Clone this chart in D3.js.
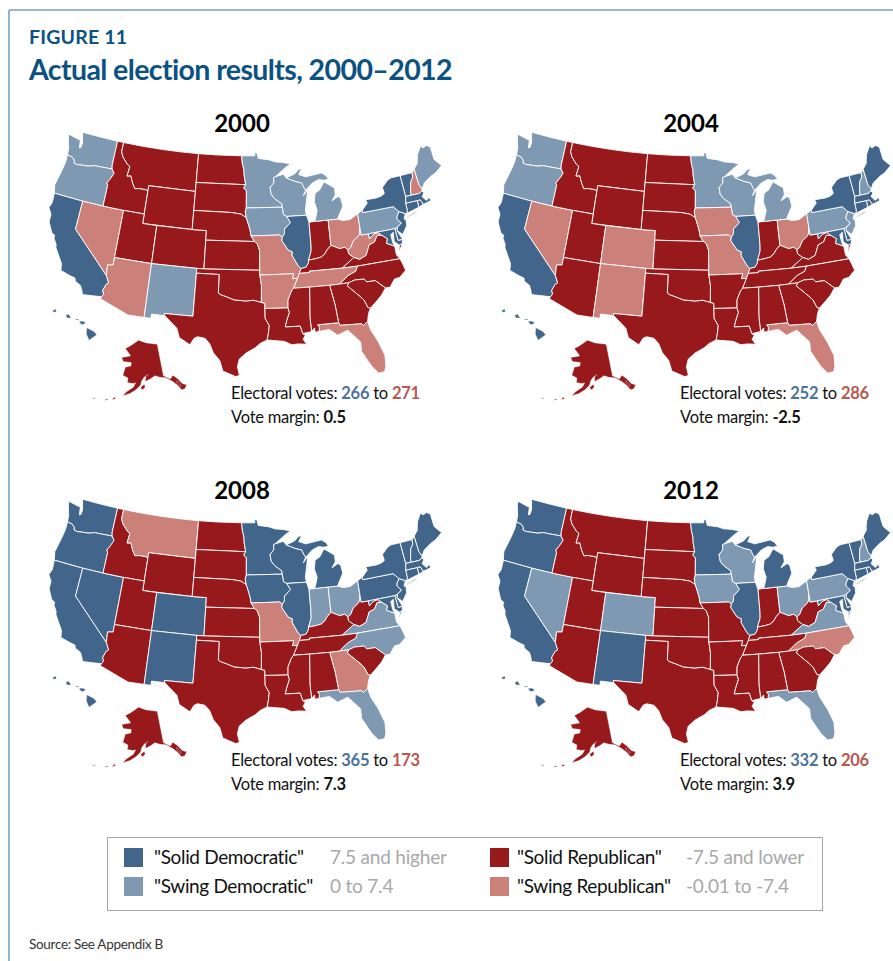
<!doctype html>
<html>
<head>
<title>Actual election results, 2000-2012</title>
<meta charset="utf-8"/>
<script src="https://cdnjs.cloudflare.com/ajax/libs/d3/7.8.5/d3.min.js"></script>
<style>
  body { margin: 0; background: #fff; }
  text { font-family: Lato, sans-serif; }
  .state { stroke: #fff; stroke-width: 0.9px; stroke-linejoin: round; }
  .inset { stroke-width: 0.3px; }
</style>
</head>
<body>
<svg width="893" height="961"></svg>
<script>
// yearly results, by rating
const years = ["2000", "2004", "2008", "2012"];
const demVotes = [266, 252, 365, 332];
const repVotes = [271, 286, 173, 206];
const margins = ["0.5", "-2.5", "7.3", "3.9"];

const solidDem = [
  ["CA","IL","NY","VT","MA","RI","CT","NJ","DE","MD","HI"],
  ["CA","IL","NY","VT","MA","RI","CT","DE","MD","ME","HI"],
  ["WA","OR","CA","NV","CO","NM","MN","WI","IA","IL","MI","PA","NY","VT","NH","ME","MA","RI","CT","NJ","DE","MD","HI"],
  ["WA","OR","CA","NM","MN","MI","IL","NY","VT","ME","MA","RI","CT","NJ","DE","MD","HI"]
];
const swingDem = [
  ["WA","OR","MN","WI","IA","MI","PA","NM","ME"],
  ["WA","OR","MN","WI","MI","PA","NH","NJ"],
  ["IN","OH","VA","NC","FL"],
  ["NV","CO","WI","IA","OH","PA","VA","FL","NH"]
];
const swingRep = [
  ["NV","AZ","MO","AR","TN","OH","WV","FL","NH"],
  ["NV","CO","NM","IA","MO","OH","FL"],
  ["MT","MO","GA"],
  ["NC"]
];

const legendLabels = ['"Solid Democratic"', '"Swing Democratic"', '"Solid Republican"', '"Swing Republican"'];
const legendRanges = ["7.5 and higher", "0 to 7.4", "-7.5 and lower", "-0.01 to -7.4"];
const colors = ["#41658b", "#7f99b3", "#97191c", "#cb8079"];

// state outlines, lon/lat
const columbia = [[-124.0,46.25],[-123.2,46.15],[-122.8,45.9],[-122.7,45.62],[-122.2,45.55],[-121.2,45.65],[-120.5,45.7],[-119.6,45.92],[-119.0,45.93],[-116.92,46.0]];
const snake = [[-116.92,46.0],[-116.48,45.6],[-116.85,44.95],[-117.22,44.45],[-117.03,44.2],[-117.03,42.0]];
const bitterroot = [[-116.05,48.0],[-115.7,47.5],[-114.75,46.8],[-114.35,46.65],[-114.5,45.6],[-113.95,45.7],[-113.45,44.95],[-113.0,44.45],[-112.3,44.55],[-111.5,44.55],[-111.05,44.47]];
const coloradoRiver = [[-114.04,36.2],[-114.75,36.1],[-114.63,35.0],[-114.15,34.27],[-114.43,34.1],[-114.72,33.4],[-114.52,33.03],[-114.72,32.72]];
const redRiver = [[-94.48,33.64],[-95.5,33.88],[-96.5,33.78],[-97.2,33.85],[-97.9,33.88],[-98.95,34.2],[-99.7,34.4],[-100.0,34.56]];
const back = a => a.slice().reverse();

const WA = [[[-124.73,48.38],[-123.1,48.15],[-122.75,48.15],[-122.55,47.3],[-122.35,47.4],[-122.3,47.9],[-122.5,48.4],[-122.75,49],[-120,49],[-117.03,49],[-117.03,46.4],...back(columbia),[-124.1,46.9],[-124.6,47.9]]];
const OR = [[[-123.95,45.5],[-124.1,44.6],[-124.5,42.85],[-124.2,42],[-120,42],[-117.03,42],...back(snake),...back(columbia)]];
const CA = [[[-124.2,42],[-120,42],[-120,39],...coloradoRiver.slice(2),[-117.12,32.53],[-117.25,32.85],[-117.6,33.4],[-118.4,33.75],[-118.5,34.03],[-119.2,34.15],[-120.5,34.45],[-120.65,35.15],[-121.9,36.6],[-122,36.95],[-122.5,37.5],[-122.5,37.8],[-123,38],[-123.75,39],[-123.8,39.8],[-124.35,40.4],[-124.1,41]]];
const NV = [[[-120,42],[-117.03,42],[-114.04,42],[-114.04,37],[-114.04,36.2],[-114.75,36.1],[-114.63,35],[-120,39]]];
const ID = [[[-117.03,49],[-116.05,49],...bitterroot,[-111.05,42],[-114.04,42],[-117.03,42],...back(snake),[-117.03,46.4]]];
const MT = [[[-116.05,49],[-113,49],[-110,49],[-107,49],[-104.05,49],[-104.05,45.94],[-104.05,45],[-111.05,45],...back(bitterroot)]];
const WY = [[[-111.05,45],[-104.05,45],[-104.05,43],[-104.05,41],[-111.05,41],[-111.05,42],[-111.05,44.47]]];
const UT = [[[-114.04,42],[-111.05,42],[-111.05,41],[-109.05,41],[-109.05,37],[-114.04,37]]];
const AZ = [[[-114.04,37],[-109.05,37],[-109.05,31.33],[-111.07,31.33],[-114.81,32.5],...back(coloradoRiver)]];
const CO = [[[-109.05,41],[-104.05,41],[-102.05,41],[-102.05,40],[-102.05,37],[-103,37],[-109.05,37]]];
const NM = [[[-109.05,37],[-103,37],[-103.04,32],[-106.62,32],[-106.53,31.78],[-108.2,31.78],[-108.2,31.33],[-109.05,31.33]]];
const ND = [[[-104.05,49],[-101,49],[-97.23,49],[-97.1,48.2],[-96.85,47.5],[-96.8,46.9],[-96.56,45.94],[-104.05,45.94]]];
const SD = [[[-104.05,45.94],[-96.56,45.94],[-96.85,45.6],[-96.45,45.3],[-96.45,43.5],[-96.6,43.1],[-96.45,42.49],[-97.2,42.85],[-98.5,43],[-104.05,43],[-104.05,45]]];
const NE = [[[-104.05,43],[-98.5,43],[-97.2,42.85],[-96.45,42.49],[-96.1,41.7],[-95.9,41.2],[-95.77,40.58],[-95.31,40],[-102.05,40],[-102.05,41],[-104.05,41]]];
const KS = [[[-102.05,40],[-95.31,40],[-94.9,39.75],[-94.61,39.1],[-94.62,37],[-102.05,37]]];
const OK = [[[-103,37],[-102.05,37],[-94.62,37],[-94.62,36.5],[-94.43,35.4],...redRiver,[-100,36.5],[-103,36.5]]];
const TX = [[[-103,36.5],[-100,36.5],...back(redRiver),[-94.04,33.55],[-94.04,33.02],[-94.04,31.99],[-93.55,31.2],[-93.7,30.3],[-93.85,29.7],[-94.7,29.35],[-95.3,28.9],[-96.4,28.35],[-97.2,27.7],[-97.4,26.9],[-97.15,25.96],[-97.6,25.85],[-99.1,26.4],[-99.5,27.5],[-100.3,28.3],[-100.8,29.25],[-101.4,29.77],[-102.3,29.88],[-102.7,29.7],[-103.15,28.98],[-104.5,29.65],[-104.9,30.6],[-106.53,31.78],[-106.62,32],[-103.04,32]]];
const MN = [[[-97.23,49],[-95.15,49],[-95.15,49.38],[-94.8,49.3],[-94.6,48.72],[-93,48.55],[-92,48.3],[-90.8,48.2],[-89.6,48],[-90.5,47.6],[-92.05,46.72],[-92.3,46.65],[-92.3,46.1],[-92.9,45.6],[-92.75,44.9],[-92.3,44.45],[-91.25,43.85],[-91.22,43.5],[-96.45,43.5],[-96.45,45.3],[-96.85,45.6],[-96.56,45.94],[-96.8,46.9],[-96.85,47.5],[-97.1,48.2]]];
const WI = [[[-92.05,46.72],[-90.8,46.95],[-90.4,46.55],[-89.1,46.13],[-88.1,45.9],[-87.8,45.35],[-87.6,45.1],[-88,44.55],[-87.3,45.2],[-87.5,44.4],[-87.9,43],[-87.8,42.49],[-90.64,42.51],[-91.1,42.7],[-91.22,43.5],[-91.25,43.85],[-92.3,44.45],[-92.75,44.9],[-92.9,45.6],[-92.3,46.1],[-92.3,46.65]]];
const IA = [[[-96.45,43.5],[-91.22,43.5],[-91.1,42.7],[-90.64,42.51],[-90.15,41.85],[-91.05,41.2],[-91.1,40.7],[-91.42,40.38],[-91.75,40.61],[-95.77,40.58],[-95.9,41.2],[-96.1,41.7],[-96.45,42.49],[-96.6,43.1]]];
const MO = [[[-95.77,40.58],[-91.75,40.61],[-91.42,40.38],[-91.5,40],[-90.7,39],[-90.15,38.8],[-90.2,38.4],[-89.5,37.3],[-89.15,37],[-89.4,36.5],[-89.7,36],[-90.37,36],[-90.15,36.5],[-94.62,36.5],[-94.62,37],[-94.61,39.1],[-94.9,39.75],[-95.31,40]]];
const IL = [[[-90.64,42.51],[-87.8,42.49],[-87.53,41.7],[-87.53,39.35],[-87.6,38.7],[-88.05,37.8],[-88.1,37.5],[-88.45,37.1],[-89.15,37],[-89.5,37.3],[-90.2,38.4],[-90.15,38.8],[-90.7,39],[-91.5,40],[-91.42,40.38],[-91.1,40.7],[-91.05,41.2],[-90.15,41.85]]];
const IN = [[[-87.53,41.7],[-87.2,41.75],[-86.8,41.76],[-84.8,41.76],[-84.82,39.1],[-85.4,38.7],[-85.8,38.28],[-86.3,38],[-87,37.9],[-88.05,37.8],[-87.6,38.7],[-87.53,39.35]]];
const OH = [[[-84.8,41.76],[-83.45,41.73],[-82.7,41.5],[-81.7,41.5],[-80.52,41.98],[-80.52,40.64],[-80.65,40],[-80.85,39.7],[-81.7,39.25],[-82.2,38.6],[-82.6,38.42],[-83,38.72],[-83.7,38.65],[-84.3,38.9],[-84.82,39.1]]];
const KY = [[[-89.15,37],[-88.45,37.1],[-88.1,37.5],[-88.05,37.8],[-87,37.9],[-86.3,38],[-85.8,38.28],[-85.4,38.7],[-84.82,39.1],[-84.3,38.9],[-83.7,38.65],[-83,38.72],[-82.6,38.42],[-82.6,38],[-81.97,37.54],[-83.68,36.6],[-88.07,36.65],[-88.07,36.5],[-89.4,36.5]]];
const WV = [[[-80.52,40.64],[-80.52,39.72],[-79.48,39.72],[-79.48,39.2],[-78.8,39.6],[-78.2,39.68],[-77.72,39.32],[-78.35,39.4],[-78.87,38.77],[-79.65,38.58],[-80.3,37.55],[-81.25,37.25],[-81.97,37.54],[-82.6,38],[-82.6,38.42],[-82.2,38.6],[-81.7,39.25],[-80.85,39.7],[-80.65,40]]];
const VA = [[[-83.68,36.6],[-81.97,37.54],[-81.25,37.25],[-80.3,37.55],[-79.65,38.58],[-78.87,38.77],[-78.35,39.4],[-77.72,39.32],[-77.05,38.85],[-77.3,38.4],[-76.3,37.95],[-76.3,37],[-75.95,36.55],[-81.68,36.59]],
  [[-75.95,37.15],[-75.25,38.03],[-75.65,37.95]]];
const NC = [[[-75.95,36.55],[-81.68,36.59],[-82,36.1],[-83.1,35.75],[-84.32,34.99],[-83.11,35],[-82.3,35.2],[-81.05,35.15],[-80.8,34.82],[-79.67,34.8],[-78.55,33.86],[-77.95,33.85],[-77.2,34.6],[-76.5,34.65],[-75.55,35.25],[-75.75,35.95]]];
const TN = [[[-88.07,36.5],[-88.07,36.65],[-83.68,36.6],[-81.68,36.59],[-82,36.1],[-83.1,35.75],[-84.32,34.99],[-85.6,34.98],[-88.2,35],[-90.3,35],[-89.7,36],[-89.4,36.5]]];
const SC = [[[-83.11,35],[-82.3,35.2],[-81.05,35.15],[-80.8,34.82],[-79.67,34.8],[-78.55,33.86],[-79.2,33.2],[-79.9,32.7],[-80.85,32.05],[-81.15,32.15],[-81.5,33],[-82,33.5],[-83.35,34.7]]];
const GA = [[[-85.6,34.98],[-84.32,34.99],[-83.11,35],[-83.35,34.7],[-82,33.5],[-81.5,33],[-81.15,32.15],[-80.85,32.05],[-81.2,31.5],[-81.45,30.72],[-82.05,30.36],[-82.2,30.57],[-84.86,30.7],[-85,31],[-85.1,32],[-85.18,32.87]]];
const FL = [[[-87.6,31],[-85,31],[-84.86,30.7],[-82.2,30.57],[-82.05,30.36],[-81.45,30.72],[-81.25,29.8],[-80.55,28.4],[-80.05,26.9],[-80.15,25.75],[-80.4,25.2],[-81.1,25.15],[-81.75,25.95],[-82.1,26.6],[-82.7,27.7],[-82.65,28.7],[-83.4,29.5],[-84,30.1],[-85.3,29.7],[-86.2,30.4],[-87.5,30.3],[-87.4,30.7]]];
const AL = [[[-88.2,35],[-85.6,34.98],[-85.18,32.87],[-85.1,32],[-85,31],[-87.6,31],[-87.4,30.7],[-87.5,30.3],[-88,30.25],[-88,30.7],[-88.4,30.35],[-88.47,31.9]]];
const MS = [[[-90.3,35],[-88.2,35],[-88.47,31.9],[-88.4,30.35],[-89.5,30.2],[-89.75,31],[-91.6,31],[-91.4,31.6],[-91,32.5],[-91.15,33],[-91.1,33.8],[-90.6,34.7]]];
const LA = [[[-94.04,33.02],[-91.15,33],[-91,32.5],[-91.4,31.6],[-91.6,31],[-89.75,31],[-89.5,30.2],[-89.2,30],[-89.5,29.6],[-89.1,29.05],[-90.1,29.15],[-90.9,29.1],[-91.8,29.5],[-92.3,29.55],[-93.85,29.7],[-93.7,30.3],[-93.55,31.2],[-94.04,31.99]]];
const AR = [[[-94.62,36.5],[-90.15,36.5],[-90.37,36],[-89.7,36],[-90.3,35],[-90.6,34.7],[-91.1,33.8],[-91.15,33],[-94.04,33.02],[-94.04,33.55],[-94.48,33.64],[-94.43,35.4]]];
const MI = [[[-86.8,41.76],[-84.8,41.76],[-83.45,41.73],[-83.1,42.2],[-82.45,43],[-82.6,43.85],[-82.95,44.07],[-83.9,43.7],[-83.3,44.3],[-83.3,45],[-84.75,45.78],[-85.5,45],[-86.25,44.7],[-86.5,43.8],[-86.2,42.9],[-86.6,41.95]],
  [[-90.4,46.55],[-89.1,46.9],[-88.4,47.35],[-87.9,47.45],[-88.45,46.8],[-87.4,46.5],[-86,46.65],[-85,46.75],[-84.4,46.45],[-84,46],[-84.75,45.95],[-85.5,46.08],[-86.5,45.8],[-87.6,45.1],[-87.8,45.35],[-88.1,45.9],[-89.1,46.13]]];
const PA = [[[-80.52,41.98],[-79.76,42.27],[-79.76,42],[-75.35,42],[-74.7,41.36],[-75.1,40.95],[-75.2,40.65],[-74.72,40.15],[-75.4,39.8],[-75.79,39.72],[-79.48,39.72],[-80.52,39.72],[-80.52,40.64]]];
const NY = [[[-79.76,42.27],[-79.76,42],[-75.35,42],[-74.7,41.36],[-73.9,41],[-73.65,41],[-73.5,41.3],[-73.5,42.05],[-73.27,42.75],[-73.35,45],[-74.7,45],[-75.3,44.85],[-76.3,44.2],[-76.2,43.55],[-76.7,43.35],[-77.5,43.25],[-79.05,43.27],[-78.9,42.9]],
  [[-74,40.6],[-72,41.05],[-72.6,40.8],[-73.7,40.58]]];
const VT = [[[-73.35,45],[-71.5,45],[-71.6,44.5],[-72.05,44.1],[-72.45,43],[-72.46,42.73],[-73.27,42.75]]];
const NH = [[[-71.5,45],[-71.08,45.3],[-71,43.6],[-70.7,43.07],[-70.82,42.87],[-71.3,42.7],[-72.46,42.73],[-72.45,43],[-72.05,44.1],[-71.6,44.5]]];
const ME = [[[-71.08,45.3],[-70.4,45.8],[-70.25,46.2],[-70,46.7],[-69.23,47.46],[-68.9,47.2],[-68.3,47.35],[-67.8,47.07],[-67.8,45.7],[-67.45,45.3],[-67,44.85],[-68.2,44.3],[-69,44.1],[-70.2,43.6],[-70.7,43.07],[-71,43.6]]];
const MA = [[[-73.27,42.75],[-72.46,42.73],[-71.3,42.7],[-70.82,42.87],[-70.6,42.65],[-71,42.3],[-70.55,41.8],[-70.05,42.05],[-69.95,41.67],[-70.65,41.55],[-71.12,41.5],[-71.38,42.02],[-71.8,42.02],[-73.5,42.05]]];
const RI = [[[-71.8,42.02],[-71.38,42.02],[-71.12,41.5],[-71.85,41.32]]];
const CT = [[[-73.5,42.05],[-71.8,42.02],[-71.85,41.32],[-73.65,41],[-73.5,41.3]]];
const NJ = [[[-74.7,41.36],[-73.9,41],[-74.25,40.5],[-74,40.4],[-74.1,39.75],[-74.9,38.95],[-75.55,39.5],[-75.4,39.8],[-74.72,40.15],[-75.2,40.65],[-75.1,40.95]]];
const DE = [[[-75.79,39.72],[-75.4,39.8],[-75.55,39.5],[-75.05,38.45],[-75.7,38.45]]];
const MD = [[[-79.48,39.72],[-75.79,39.72],[-75.7,38.45],[-75.05,38.45],[-75.25,38.03],[-75.65,37.95],[-76.25,38.4],[-76.1,39.4],[-76.5,39.2],[-76.45,38.3],[-76.3,37.95],[-77.3,38.4],[-77.05,38.85],[-77.72,39.32],[-78.2,39.68],[-78.8,39.6],[-79.48,39.2]]];
const AK = [[[-141,69.65],[-141,60.3],[-137.5,58.9],[-135.5,59.8],[-133.5,58.4],[-131.8,56.6],[-130,55.9],[-131.5,55],[-133.2,55],[-134.5,56.5],[-136.5,58],[-139.8,59.6],[-143,60],[-146,60.7],[-148.5,60],[-151.8,59.2],[-151.4,60.8],[-150,61.2],[-152.5,60.5],[-154,59.4],[-154.5,58.2],[-157,56.8],[-160,55.6],[-163.5,54.7],[-162,55.9],[-158.5,57.5],[-157.3,58.8],[-159,58.6],[-162,58.7],[-162,60],[-165.2,60.6],[-164.5,63],[-161,63.6],[-161,64.6],[-166.5,64.6],[-168.1,65.6],[-162,66.5],[-163,67],[-166.8,68.4],[-163,69.5],[-156.7,71.3],[-150,70.5]],
  [[-152.5,58.4],[-154.5,57.5],[-153.5,56.8],[-152,57.6]],
  [[-134.5,58],[-133,57],[-133,56],[-134.5,57]],
  [[-166.8,53.5],[-168.5,53],[-167.5,53.9]],
  [[-170,52.9],[-172,52.2],[-171,52.9]],
  [[-176,52],[-178,51.7],[-177,52.1]]];
const HI = [[[-155.9,20.25],[-155.1,19.85],[-154.8,19.5],[-155.65,18.95],[-155.95,19.6]],
  [[-156.7,20.95],[-156.3,20.95],[-156,20.75],[-156.4,20.58],[-156.7,20.8]],
  [[-157.3,21.2],[-156.75,21.17],[-156.9,21.05]],
  [[-158.25,21.55],[-157.95,21.7],[-157.65,21.3],[-158.1,21.3]],
  [[-159.75,22.05],[-159.4,22.23],[-159.3,21.95],[-159.6,21.9]]];

const stateCodes = ["WA","OR","CA","NV","ID","MT","WY","UT","AZ","CO","NM","ND","SD","NE","KS","OK","TX","MN","WI","IA","MO","IL","IN","OH","KY","WV","VA","NC","TN","SC","GA","FL","AL","MS","LA","AR","MI","PA","NY","VT","NH","ME","MA","RI","CT","NJ","DE","MD","AK","HI"];
const stateShapes = [WA,OR,CA,NV,ID,MT,WY,UT,AZ,CO,NM,ND,SD,NE,KS,OK,TX,MN,WI,IA,MO,IL,IN,OH,KY,WV,VA,NC,TN,SC,GA,FL,AL,MS,LA,AR,MI,PA,NY,VT,NH,ME,MA,RI,CT,NJ,DE,MD,AK,HI];

// close each ring and keep the winding d3.geo wants
function polygon(ring) {
  let r = ring.concat([ring[0]]);
  if (d3.geoArea({type: "Polygon", coordinates: [r]}) > 2 * Math.PI) r = r.reverse();
  return [r];
}
const features = stateShapes.map((rings, i) => ({
  type: "Feature",
  id: stateCodes[i],
  geometry: {type: "MultiPolygon", coordinates: rings.map(polygon)}
}));

const s = 545;
const lower48 = d3.geoAlbers().scale(s).translate([245, 254]);
const alaska = d3.geoConicEqualArea().rotate([154, 0]).center([-2, 58.5]).parallels([55, 65]).scale(s * 0.36).translate([138, 384]);
const hawaii = d3.geoConicEqualArea().rotate([157, 0]).center([-3, 19.9]).parallels([8, 18]).scale(s).translate([50, 331]);
const paths = {
  lower: d3.geoPath(lower48),
  AK: d3.geoPath(alaska),
  HI: d3.geoPath(hawaii)
};

const svg = d3.select("svg");

// frame
svg.append("line").attr("x1", 9).attr("x2", 893).attr("y1", 10).attr("y2", 10).attr("stroke", "#3f6f96").attr("stroke-width", 1);
svg.append("line").attr("x1", 9).attr("x2", 9).attr("y1", 10).attr("y2", 961).attr("stroke", "#6f9bbd").attr("stroke-width", 1.5);

svg.append("text").attr("x", 29).attr("y", 44).attr("font-size", 19.5).attr("font-weight", 700).attr("letter-spacing", 0.2).attr("fill", "#0b5282").text("FIGURE 11");
svg.append("text").attr("x", 29).attr("y", 80).attr("font-size", 28.5).attr("font-weight", 700).attr("letter-spacing", -0.6).attr("fill", "#0b5282").text("Actual election results, 2000\u20132012");

const panelX = d3.scaleOrdinal().domain(years).range([0, 449, 0, 449]);
const panelY = d3.scaleOrdinal().domain(years).range([0, 0, 367, 367]);

function rating(code, i) {
  if (solidDem[i].includes(code)) return colors[0];
  if (swingDem[i].includes(code)) return colors[1];
  if (swingRep[i].includes(code)) return colors[3];
  return colors[2];
}

const panels = svg.selectAll("g.panel").data(years).enter().append("g")
  .attr("class", "panel")
  .attr("transform", d => `translate(${panelX(d)},${panelY(d)})`);

panels.each(function(year, i) {
  const g = d3.select(this);
  g.selectAll("path").data(features).enter().append("path")
    .attr("class", d => paths[d.id] ? "state inset" : "state")
    .attr("fill", d => rating(d.id, i))
    .attr("d", d => (paths[d.id] || paths.lower)(d));

  g.append("text").attr("x", 242).attr("y", 132).attr("text-anchor", "middle")
    .attr("font-size", 24).attr("font-weight", 700).attr("fill", "#000").text(year);

  const line1 = g.append("text").attr("x", 231).attr("y", 399).attr("font-size", 16.5).attr("letter-spacing", -0.25).attr("fill", "#111");
  line1.append("tspan").text("Electoral votes: ");
  line1.append("tspan").attr("font-weight", 700).attr("fill", "#4c739b").text(demVotes[i]);
  line1.append("tspan").text(" to ");
  line1.append("tspan").attr("font-weight", 700).attr("fill", "#b8584f").text(repVotes[i]);

  const line2 = g.append("text").attr("x", 231).attr("y", 423).attr("font-size", 16.5).attr("letter-spacing", -0.25).attr("fill", "#111");
  line2.append("tspan").text("Vote margin: ");
  line2.append("tspan").attr("font-weight", 700).text(margins[i]);
});

// legend
svg.append("rect").attr("x", 107.5).attr("y", 837.5).attr("width", 715).attr("height", 73).attr("fill", "none").attr("stroke", "#a6a6a6").attr("stroke-width", 1);
const legendX = d3.scaleOrdinal().domain([0, 1]).range([124, 490]);
const legendY = d3.scaleOrdinal().domain([0, 1]).range([848, 877]);
const rangeX = d3.scaleOrdinal().domain([0, 1]).range([330, 686]);
const items = svg.selectAll("g.item").data(legendLabels).enter().append("g").attr("class", "item")
  .attr("transform", (d, i) => `translate(${legendX(i >> 1)},${legendY(i & 1)})`);
items.append("rect").attr("width", 19).attr("height", 19).attr("fill", (d, i) => colors[i]);
items.append("text").attr("x", (d, i) => i >> 1 ? 27 : 30).attr("y", 16).attr("font-size", 19).attr("letter-spacing", -0.35).attr("fill", "#111").text(d => d);
items.append("text").attr("x", (d, i) => rangeX(i >> 1) - legendX(i >> 1)).attr("y", 16).attr("font-size", 19).attr("letter-spacing", -0.2).attr("fill", "#a8a8a8").text((d, i) => legendRanges[i]);

svg.append("text").attr("x", 29).attr("y", 949).attr("font-size", 13.5).attr("letter-spacing", -0.3).attr("fill", "#333").text("Source: See Appendix B");
</script>
</body>
</html>
